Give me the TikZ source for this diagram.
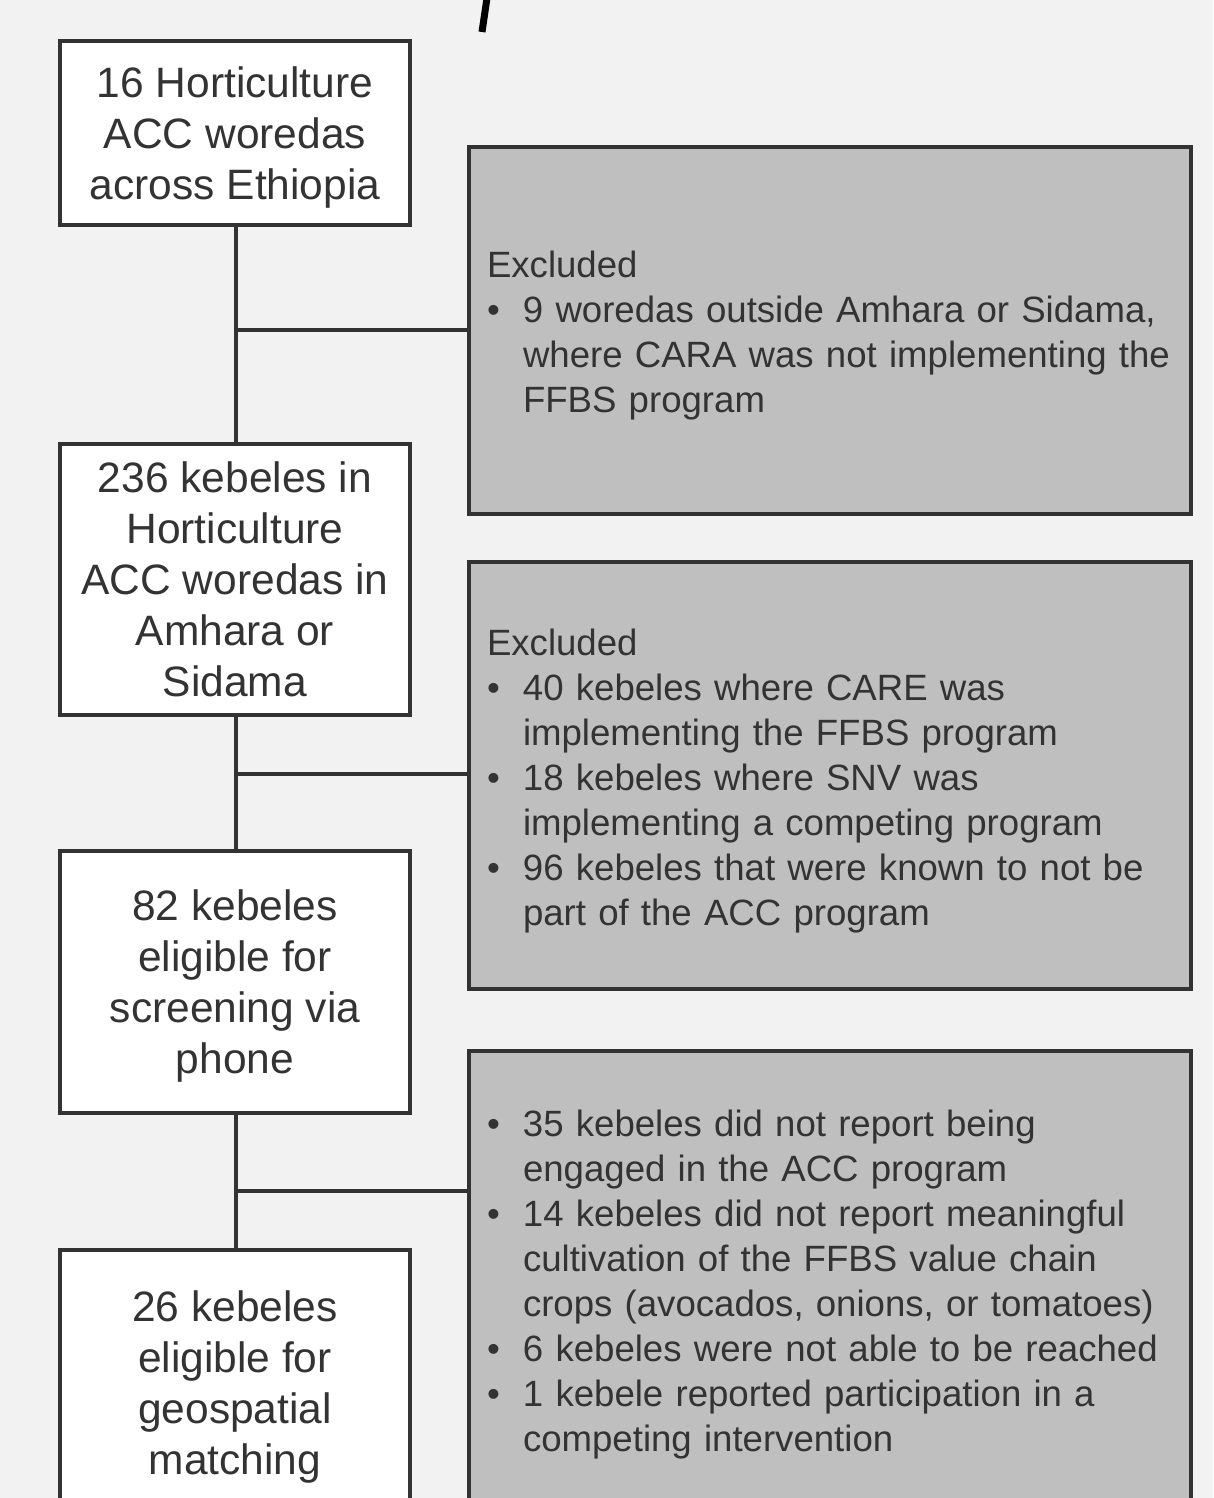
\documentclass[tikz,border=0pt]{standalone}
\usepackage{fontspec}
\setmainfont{Liberation Sans}
\definecolor{bgc}{HTML}{F2F2F2}
\definecolor{linec}{HTML}{333333}
\definecolor{txtc}{HTML}{333333}
\definecolor{exc}{HTML}{BFBFBF}
\newcommand\exbul[1]{\makebox[36pt][l]{\textbullet}#1}
\newcommand\excont[1]{\hspace*{36pt}#1}
\newcommand\exhigh{\rule{0pt}{37pt}}
\begin{document}
\begin{tikzpicture}[x=1pt,y=-1pt,
  ln/.style={draw=linec, line width=4pt},
  leftbox/.style={ln, fill=white, minimum width=350pt, align=center, inner sep=0pt, text depth=0pt,
    font=\fontsize{42.5}{51}\selectfont, text=txtc},
  exbox/.style={ln, fill=exc, minimum width=722pt, text width=686pt, inner xsep=18pt, inner ysep=0pt,
    align=left, font=\fontsize{36.6}{45}\selectfont, text=txtc},
  conn/.style={draw=linec, line width=4pt}]
\path[use as bounding box, fill=bgc] (0,0) rectangle (1213,1498);
\clip (0,0) rectangle (1213,1498);
% title fragment
\draw[line width=7pt, black] (487,-2) -- (482,32);
% left boxes
\node[leftbox, minimum height=184pt] (b1) at (235,133) {16 Horticulture\\ACC woredas\\across Ethiopia};
\node[leftbox, minimum height=271pt] (b2) at (235,579.5) {236 kebeles in\\Horticulture\\ACC woredas in\\Amhara or\\Sidama};
\node[leftbox, minimum height=262pt] (b3) at (235,982) {82 kebeles\\eligible for\\screening via\\phone};
\node[leftbox, minimum height=266pt] (b4) at (235,1383) {26 kebeles\\eligible for\\geospatial\\matching};
% exclusion boxes
\node[exbox, minimum height=367pt] (e1) at (830,330.5) {\exhigh Excluded\\
\exbul{9 woredas outside Amhara or Sidama,}\\
\excont{where CARA was not implementing the}\\
\excont{FFBS program}};
\node[exbox, minimum height=427pt] (e2) at (830,775.5) {\exhigh Excluded\\
\exbul{40 kebeles where CARE was}\\
\excont{implementing the FFBS program}\\
\exbul{18 kebeles where SNV was}\\
\excont{implementing a competing program}\\
\exbul{96 kebeles that were known to not be}\\
\excont{part of the ACC program}};
\node[exbox, minimum height=456pt] (e3) at (830,1279) {\exbul{\exhigh 35 kebeles did not report being}\\
\excont{engaged in the ACC program}\\
\exbul{14 kebeles did not report meaningful}\\
\excont{cultivation of the FFBS value chain}\\
\excont{crops (avocados, onions, or tomatoes)}\\
\exbul{6 kebeles were not able to be reached}\\
\exbul{1 kebele reported participation in a}\\
\excont{competing intervention}};
% connectors
\coordinate (j1) at (236,330);
\coordinate (j2) at (236,774);
\coordinate (j3) at (236,1191);
\draw[conn] (b1.south -| j1) -- (b2.north -| j1);
\draw[conn] (b2.south -| j2) -- (b3.north -| j2);
\draw[conn] (b3.south -| j3) -- (b4.north -| j3);
\draw[conn] (j1) -- (j1 -| e1.west);
\draw[conn] (j2) -- (j2 -| e2.west);
\draw[conn] (j3) -- (j3 -| e3.west);
\end{tikzpicture}
\end{document}
